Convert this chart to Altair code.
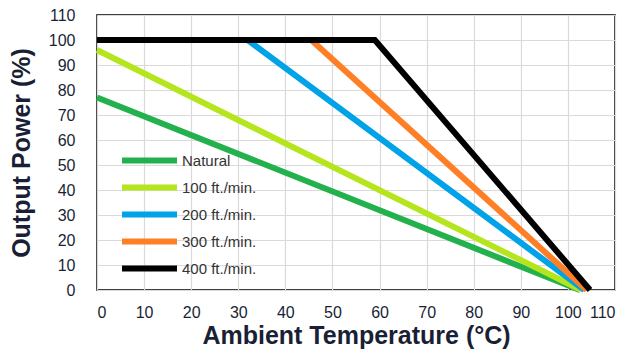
import altair as alt
import pandas as pd

series_names = ["Natural", "100 ft./min.", "200 ft./min.", "300 ft./min.", "400 ft./min."]
series_colors = ["#22B14C", "#B5E61D", "#00A2E8", "#FF7F27", "#000000"]

natural_x = [0, 102.5]
natural_y = [77, 0]
lfm100_x = [0, 102.8]
lfm100_y = [96, 0]
lfm200_x = [0, 32, 103.5]
lfm200_y = [100, 100, 0]
lfm300_x = [0, 45.5, 104]
lfm300_y = [100, 100, 0]
lfm400_x = [0, 59, 104.7]
lfm400_y = [100, 100, 0]

xs = [natural_x, lfm100_x, lfm200_x, lfm300_x, lfm400_x]
ys = [natural_y, lfm100_y, lfm200_y, lfm300_y, lfm400_y]

rows = []
for i, (name, sx, sy) in enumerate(zip(series_names, xs, ys)):
    for j, (a, b) in enumerate(zip(sx, sy)):
        rows.append({"series": name, "order": i, "pt": j, "temp": a, "power": b})
df = pd.DataFrame(rows)

ticks = list(range(0, 111, 10))
text_color = "#1A1F36"

chart = alt.Chart(df).mark_line(strokeWidth=6, strokeCap="butt", strokeJoin="miter").encode(
    x=alt.X("temp:Q", scale=alt.Scale(domain=[0, 110], nice=False),
            axis=alt.Axis(values=ticks, title="Ambient Temperature (°C)", domain=False, ticks=False,
                          labelPadding=14, titlePadding=3, labelFontSize=16, titleFontSize=25,
                          labelColor=text_color, titleColor=text_color, titleFontWeight="bold",
                          labelFont="Liberation Sans", titleFont="Liberation Sans",
                          gridColor="#DADADA", gridWidth=1.2)),
    y=alt.Y("power:Q", scale=alt.Scale(domain=[0, 110], nice=False),
            axis=alt.Axis(values=ticks, title="Output Power (%)", domain=False, ticks=False,
                          labelPadding=22, titlePadding=14, labelFontSize=16, titleFontSize=25,
                          labelColor=text_color, titleColor=text_color, titleFontWeight="bold",
                          labelFont="Liberation Sans", titleFont="Liberation Sans",
                          gridColor="#DADADA", gridWidth=1.2)),
    color=alt.Color("series:N", scale=alt.Scale(domain=series_names, range=series_colors),
                    sort=series_names,
                    legend=alt.Legend(title=None, orient="none", legendX=44, legendY=137,
                                      symbolType="M-5,0H5", symbolSize=121, symbolStrokeWidth=6,
                                      labelFontSize=15, labelColor="#333333", labelFont="Liberation Sans",
                                      labelOffset=24, rowPadding=2)),
    order="pt:Q",
    detail="order:N",
).properties(
    width=518, height=275, autosize="none",
    padding={"left": 89, "top": 7, "right": 8, "bottom": 67},
).configure_view(stroke="black", strokeWidth=1.5)

chart.save("out.html", embed_options={"renderer": "svg", "actions": False})
